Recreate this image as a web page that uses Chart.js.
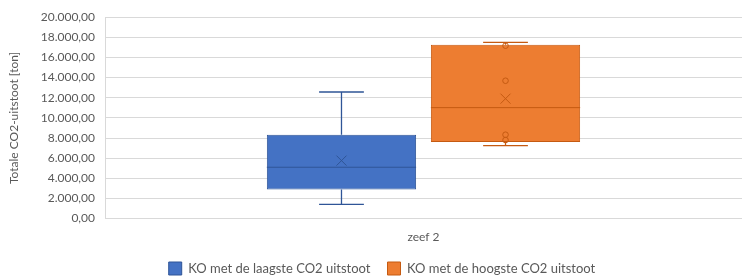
<!DOCTYPE html>
<html>
<head>
<meta charset="utf-8">
<script src="https://cdn.jsdelivr.net/npm/chart.js@4"></script>
<style>
  html, body { margin: 0; padding: 0; background: #fff; }
  #wrap { width: 742px; height: 280px; }
</style>
</head>
<body>
<div id="wrap"><canvas id="chart"></canvas></div>
<script>
// values (ton CO2), one entry per series
const categories = ['zeef 2'];
const seriesNames = ['KO met de laagste CO2 uitstoot', 'KO met de hoogste CO2 uitstoot'];
const minValues = [1420, 7240];
const q1Values = [2900, 7600];
const medianValues = [5100, 11020];
const q3Values = [8330, 17270];
const maxValues = [12570, 17500];
const meanValues = [5760, 11910];
const innerPoints = [[], [17170, 13690, 8330, 7800]];
const yTicks = [0, 2000, 4000, 6000, 8000, 10000, 12000, 14000, 16000, 18000, 20000];

const fillColors = ['#4472C4', '#ED7D31'];
const lineColors = ['#2F5597', '#C55A11'];

// dutch number format: 12.000,00
function formatNL(v) {
    const parts = v.toFixed(2).split('.');
    const intPart = parts[0].replace(/\B(?=(\d{3})+(?!\d))/g, '.');
    return intPart + ',' + parts[1];
}

// draws whiskers, median, mean and points on top of the floating bars
const boxPlotPlugin = {
    id: 'boxPlot',
    afterLayout(chart) {
        // excel puts the legend a bit right of centre
        chart.legend.left += 11;
        chart.legend.right += 11;
    },
    afterDatasetsDraw(chart) {
        const ctx = chart.ctx;
        const y = chart.scales.y;
        chart.data.datasets.forEach((ds, i) => {
            const bar = chart.getDatasetMeta(i).data[0];
            const cx = bar.x;
            const half = bar.width / 2;
            const cap = bar.width * 0.15;
            ctx.save();
            ctx.strokeStyle = lineColors[i];
            ctx.lineWidth = 1.3;
            // whiskers
            ctx.beginPath();
            ctx.moveTo(cx, y.getPixelForValue(q3Values[i]));
            ctx.lineTo(cx, y.getPixelForValue(maxValues[i]));
            ctx.moveTo(cx - cap, y.getPixelForValue(maxValues[i]));
            ctx.lineTo(cx + cap, y.getPixelForValue(maxValues[i]));
            ctx.moveTo(cx, y.getPixelForValue(q1Values[i]));
            ctx.lineTo(cx, y.getPixelForValue(minValues[i]));
            ctx.moveTo(cx - cap, y.getPixelForValue(minValues[i]));
            ctx.lineTo(cx + cap, y.getPixelForValue(minValues[i]));
            ctx.stroke();
            // median
            ctx.lineWidth = 1;
            ctx.beginPath();
            const my = y.getPixelForValue(medianValues[i]);
            ctx.moveTo(cx - half, my);
            ctx.lineTo(cx + half, my);
            ctx.stroke();
            // mean cross
            const ay = y.getPixelForValue(meanValues[i]);
            ctx.beginPath();
            ctx.moveTo(cx - 5, ay - 5);
            ctx.lineTo(cx + 5, ay + 5);
            ctx.moveTo(cx + 5, ay - 5);
            ctx.lineTo(cx - 5, ay + 5);
            ctx.stroke();
            // inner points
            innerPoints[i].forEach(p => {
                ctx.beginPath();
                ctx.arc(cx, y.getPixelForValue(p), 2.8, 0, Math.PI * 2);
                ctx.stroke();
            });
            ctx.restore();
        });
    }
};

const datasets = seriesNames.map((name, i) => ({
    label: name,
    data: [[q1Values[i], q3Values[i]]],
    backgroundColor: fillColors[i],
    borderColor: lineColors[i],
    borderWidth: 1,
    borderSkipped: false,
    categoryPercentage: 0.515,
    barPercentage: 0.91
}));

new Chart(document.getElementById('chart'), {
    type: 'bar',
    data: { labels: categories, datasets: datasets },
    options: {
        responsive: true,
        maintainAspectRatio: false,
        animation: false,
        layout: { padding: { top: 0, right: 0, left: 0, bottom: -5 } },
        scales: {
            x: {
                grid: { display: false, drawTicks: false },
                border: { display: false },
                ticks: { color: '#595959', font: { family: 'Lato', size: 12 }, padding: 11 }
            },
            y: {
                min: 0,
                max: 20000,
                afterBuildTicks(scale) { scale.ticks = yTicks.map(v => ({ value: v })); },
                afterFit(scale) { scale.width = 105; },
                grid: { color: '#d9d9d9', drawTicks: false },
                border: { display: true, color: '#d9d9d9' },
                ticks: {
                    color: '#595959',
                    font: { family: 'Lato', size: 12 },
                    padding: 10,
                    callback: v => formatNL(v)
                },
                title: {
                    display: true,
                    text: 'Totale CO2-uitstoot [ton]',
                    color: '#595959',
                    font: { family: 'Lato', size: 12 },
                    padding: { top: 7, bottom: 0 }
                }
            }
        },
        plugins: {
            legend: {
                position: 'bottom',
                labels: {
                    color: '#595959',
                    font: { family: 'Lato', size: 13 },
                    boxWidth: 13,
                    boxHeight: 13,
                    padding: 7,
                    generateLabels(chart) {
                        const items = Chart.defaults.plugins.legend.labels.generateLabels(chart);
                        // wider gap between the two entries, like excel
                        items[0].text += '   ';
                        return items;
                    }
                }
            },
            tooltip: { enabled: false }
        }
    },
    plugins: [boxPlotPlugin]
});
</script>
</body>
</html>
